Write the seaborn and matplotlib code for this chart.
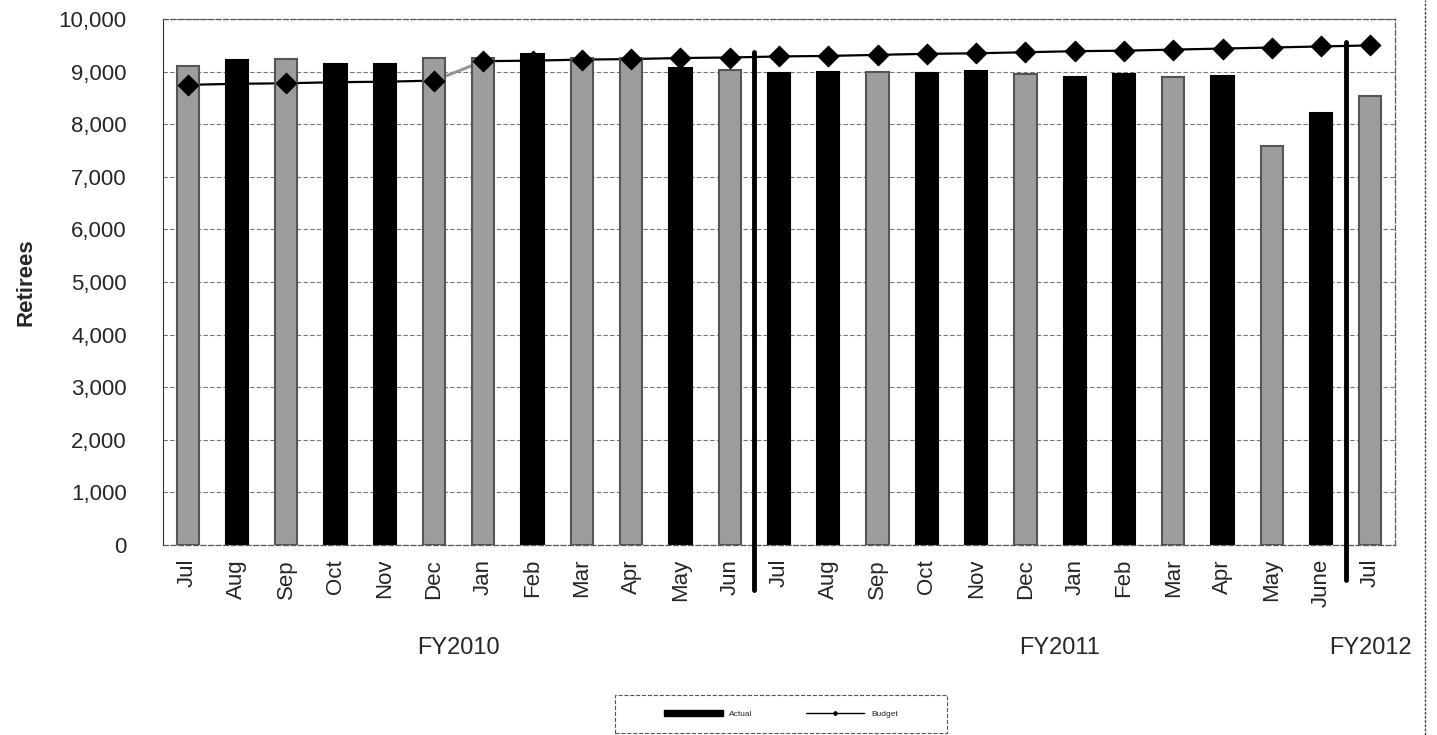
import pandas as pd
import matplotlib
matplotlib.use("Agg")
import matplotlib.pyplot as plt
from matplotlib.patches import Patch, Rectangle
from matplotlib.lines import Line2D
from matplotlib.ticker import FuncFormatter
import seaborn as sns

# Monthly data, Jul FY2010 .. Jul FY2012
months = ["Jul", "Aug", "Sep", "Oct", "Nov", "Dec", "Jan", "Feb", "Mar", "Apr", "May", "Jun",
          "Jul", "Aug", "Sep", "Oct", "Nov", "Dec", "Jan", "Feb", "Mar", "Apr", "May", "June",
          "Jul"]
actual = [9100, 9230, 9240, 9150, 9140, 9270, 9270, 9330, 9270, 9270, 9070, 9030,
          8970, 8990, 9000, 8970, 9010, 8960, 8900, 8960, 8900, 8920, 7590, 8210,
          8540]
budget = [8750, 8770, 8780, 8800, 8810, 8830, 9200, 9210, 9230, 9240, 9260, 9270,
          9290, 9300, 9320, 9340, 9350, 9370, 9390, 9400, 9420, 9440, 9460, 9480,
          9500]
# scan shading of each bar: "g" grey, "k" black
shade = ["g", "k", "g", "k", "k", "g", "g", "k", "g", "g", "k", "g",
         "k", "k", "g", "k", "k", "g", "k", "k", "g", "k", "g", "k",
         "g"]
fiscal_years = ["FY2010", "FY2011", "FY2012"]
fy_label_pos = [5.5, 17.7, 24.0]
fy_breaks = [11.5, 23.5]

df = pd.DataFrame({"slot": range(len(months)), "month": months,
                   "actual": actual, "budget": budget, "shade": shade})

sns.set_style("white")
plt.rcParams["font.family"] = ["Liberation Sans", "DejaVu Sans"]

fig = plt.figure(figsize=(14.37, 7.35), dpi=100)
ax = fig.add_axes([0.1134, 0.2585, 0.8574, 0.7155])

colors = {"g": "#9d9d9d", "k": "#000000"}
sns.barplot(data=df, x="slot", y="actual", hue="slot",
            palette=[colors[s] for s in shade], legend=False,
            width=0.45, saturation=1, ax=ax, zorder=2)
for patch, s in zip(ax.patches, shade):
    patch.set_edgecolor("#555555" if s == "g" else "#000000")
    patch.set_linewidth(1.5)

# budget line runs behind the bars, diamonds sit on top
sns.lineplot(data=df, x="slot", y="budget", color="black", linewidth=1.6,
             ax=ax, zorder=1.5)
seg = df.iloc[5:7]
ax.plot(seg["slot"], seg["budget"], color="#999999", linewidth=2, zorder=1.6)
sns.scatterplot(data=df, x="slot", y="budget", color="black", marker="D",
                s=110, edgecolor="black", linewidth=0.8, ax=ax, zorder=4)

ax.set_xlim(-0.5, 24.5)
ax.set_ylim(0, 10000)
ax.set_yticks(range(0, 10001, 1000))
ax.yaxis.set_major_formatter(FuncFormatter(lambda v, p: f"{int(v):,}"))
ax.set_xticks(df["slot"])
ax.set_xticklabels(months, rotation=90, fontsize=16)
ax.tick_params(axis="y", labelsize=16, length=0, pad=26)
ax.tick_params(axis="x", length=0, pad=10)
ax.set_xlabel("")
ax.set_ylabel("Retirees", fontsize=16, fontweight="bold", labelpad=16)

ax.grid(axis="y", color="#777777", linestyle=(0, (4, 2)), linewidth=0.8, zorder=0)
ax.set_axisbelow(True)
for side in ["top", "right", "bottom"]:
    ax.spines[side].set_color("#555555")
    ax.spines[side].set_linestyle((0, (4, 2)))
    ax.spines[side].set_linewidth(0.9)
ax.spines["left"].set_color("#333333")

# fiscal year separators
ax.plot([fy_breaks[0], fy_breaks[0]], [-850, 9370], color="black", linewidth=3.5,
        clip_on=False, zorder=5)
ax.plot([fy_breaks[1], fy_breaks[1]], [-660, 9560], color="black", linewidth=3.5,
        clip_on=False, zorder=5)

for fy, xp in zip(fiscal_years, fy_label_pos):
    ax.text(xp, -1950, fy, ha="center", va="center", fontsize=17, clip_on=False)

# outer border at the right edge
fig.add_artist(Line2D([0.9916, 0.9916], [0, 1], transform=fig.transFigure,
                      color="#444444", linewidth=1, linestyle=(0, (2, 1))))

handles = [Patch(facecolor="black", edgecolor="black"),
           Line2D([], [], color="black", linewidth=1, marker="D", markersize=2)]
leg = fig.legend(handles, ["Actual", "Budget"], loc="center", ncol=2,
                 bbox_to_anchor=(0.5435, 0.0286), fontsize=6, frameon=False,
                 handlelength=7, handleheight=0.8, columnspacing=6.4)
fig.add_artist(Rectangle((615 / 1437, 0.003), 332 / 1437, 0.051,
                         transform=fig.transFigure, fill=False,
                         edgecolor="#555555", linestyle="--", linewidth=0.8))

fig.savefig("out.png", dpi=100)
